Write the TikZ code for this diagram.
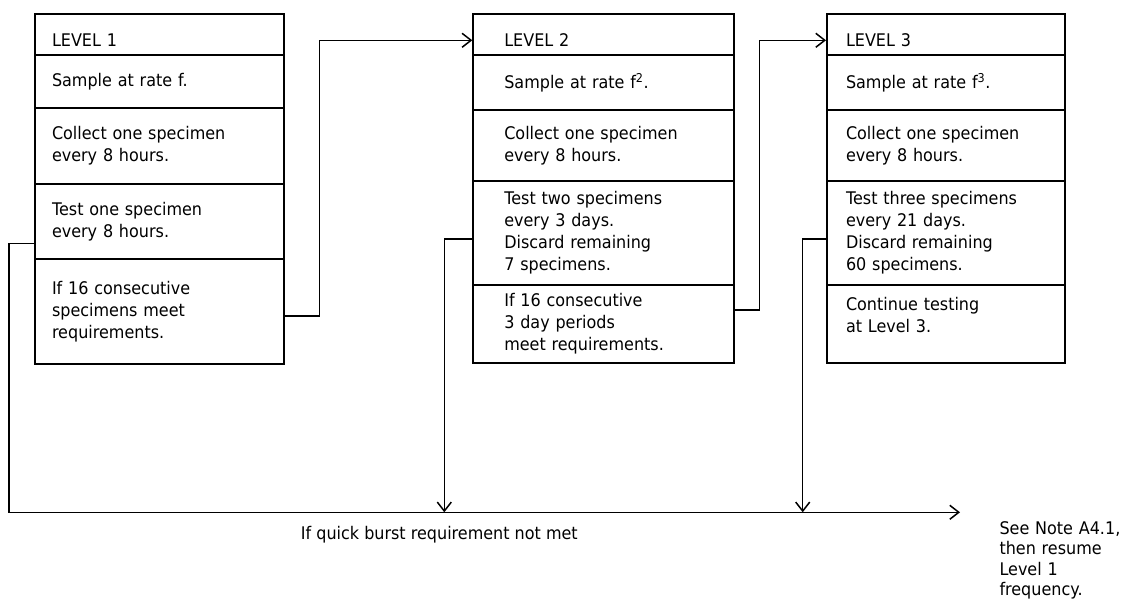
\documentclass[tikz,border=0pt]{standalone}
\usepackage{amsmath}
\usepackage{fontspec}
\setmainfont[FakeStretch=0.92]{DejaVu Sans}
\usepackage{tikz}
\usetikzlibrary{calc}
\usetikzlibrary{arrows.meta}

\begin{document}
\begin{tikzpicture}[x=1pt, y=-1pt,
		cell/.style={draw, line width=2pt, anchor=north west, inner ysep=0pt, align=left, font=\fontsize{17.4}{22}\selectfont},
		boxa/.style={cell, inner xsep=16.7pt, text width=215.6pt},
		boxb/.style={cell, inner xsep=31pt, text width=199pt},
		boxc/.style={cell, inner xsep=19pt, text width=200pt},
		title/.style={minimum height=41pt, text height=23pt, text depth=0pt},
		link/.style={line width=1.5pt, >={Straight Barb[length=9pt, width=14pt]}},
		txt/.style={anchor=base west, inner sep=0pt, font=\fontsize{17.4}{20.5}\selectfont}]
	\useasboundingbox[fill=white] (0,0) rectangle (1123,601);
		\node[boxa, title] (lvl1-1) at (34.3,13.3) {LEVEL 1};
		\node[boxa, minimum height=52.4pt] (lvl1-2) at (34.3,54.3) {Sample at rate f.};
		\node[boxa, minimum height=76.6pt] (lvl1-3) at (34.3,106.7) {Collect one specimen\\every 8 hours.};
		\node[boxa, minimum height=74.4pt] (lvl1-4) at (34.3,183.3) {Test one specimen\\every 8 hours.};
		\node[boxa, minimum height=105pt] (lvl1-5) at (34.3,257.7) {If 16 consecutive\\specimens meet\\requirements.};
		\node[boxb, title] (lvl2-1) at (472.3,13.3) {LEVEL 2};
		\node[boxb, minimum height=54.7pt] (lvl2-2) at (472.3,54.3) {Sample at rate f\textsuperscript{2}.};
		\node[boxb, minimum height=71pt] (lvl2-3) at (472.3,109) {Collect one specimen\\every 8 hours.};
		\node[boxb, minimum height=104.3pt] (lvl2-4) at (472.3,180) {Test two specimens\\every 3 days.\\Discard remaining\\7 specimens.};
		\node[boxb, minimum height=77.4pt] (lvl2-5) at (472.3,284.3) {If 16 consecutive\\3 day periods\\meet requirements.};
		\node[boxc, title] (lvl3-1) at (826,13.3) {LEVEL 3};
		\node[boxc, minimum height=54.7pt] (lvl3-2) at (826,54.3) {Sample at rate f\textsuperscript{3}.};
		\node[boxc, minimum height=71pt] (lvl3-3) at (826,109) {Collect one specimen\\every 8 hours.};
		\node[boxc, minimum height=104.3pt] (lvl3-4) at (826,180) {Test three specimens\\every 21 days.\\Discard remaining\\60 specimens.};
		\node[boxc, minimum height=77.4pt, text depth=41pt] (lvl3-5) at (826,284.3) {Continue testing\\at Level 3.};
		\node[txt] (fail) at (300.7,539.3) {If quick burst requirement not met};
		\node[txt, align=left, text width=160pt] (note) at (999.3,534) {See Note A4.1,\\then resume\\Level 1\\frequency.};
		\coordinate (out) at (960,512.3);
		\draw[link, ->] ($(lvl1-5.east)+(0,5)$) -- ++(34,0) |- ($(lvl2-1.west)+(0,5.5)$);
		\draw[link, ->] ($(lvl2-5.east)+(0,-14)$) -- ++(24.4,0) |- ($(lvl3-1.west)+(0,5.5)$);
		\draw[link, ->] ($(lvl1-4.west)+(0,22)$) -| ($(lvl1-4.west |- out)+(-25.3,0)$) -- (out);
		\foreach \b/\off in {2/28,3/23.3}
		\draw[link, ->] ($(lvl\b-4.west)+(0,6)$) -| ($(lvl\b-4.west |- out)+(-\off,0)$);
\end{tikzpicture}
\end{document}
